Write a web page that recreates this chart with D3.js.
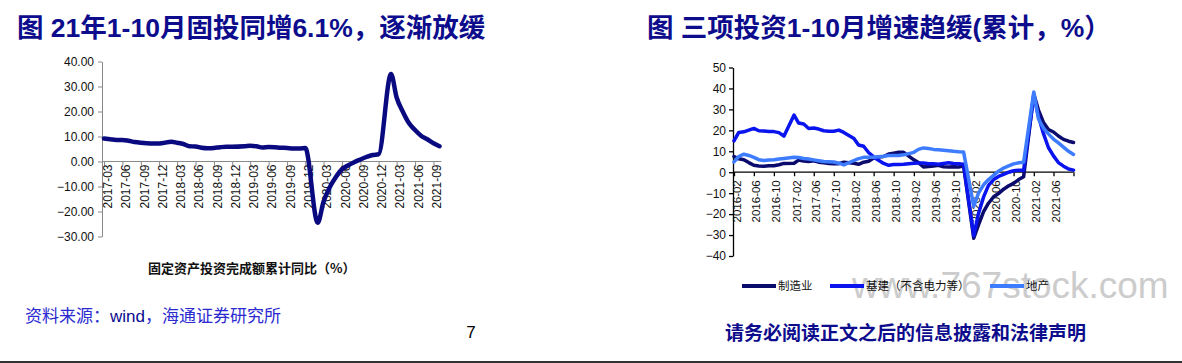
<!DOCTYPE html>
<html>
<head>
<meta charset="utf-8">
<script src="https://cdn.jsdelivr.net/npm/d3@7"></script>
<style>
  body { margin: 0; background: #fff; }
  svg { display: block; }
</style>
</head>
<body>
<div id="chart"></div>
<script>
// ---- left chart: fixed asset investment, cumulative yoy (%)
const faiMonths = [
  "2017-03","2017-04","2017-05","2017-06","2017-07","2017-08","2017-09","2017-10","2017-11","2017-12",
  "2018-02","2018-03","2018-04","2018-05","2018-06","2018-07","2018-08","2018-09","2018-10","2018-11","2018-12",
  "2019-02","2019-03","2019-04","2019-05","2019-06","2019-07","2019-08","2019-09","2019-10","2019-11","2019-12",
  "2020-02","2020-03","2020-04","2020-05","2020-06","2020-07","2020-08","2020-09","2020-10","2020-11","2020-12",
  "2021-02","2021-03","2021-04","2021-05","2021-06","2021-07","2021-08","2021-09","2021-10"
];
const faiValues = [
  9.2, 8.9, 8.6, 8.6, 8.3, 7.8, 7.5, 7.3, 7.2, 7.2,
  7.9, 7.5, 7.0, 6.1, 6.0, 5.5, 5.3, 5.4, 5.7, 5.9, 5.9,
  6.1, 6.3, 6.1, 5.6, 5.8, 5.7, 5.5, 5.4, 5.2, 5.2, 5.4,
  -24.5, -16.1, -10.3, -6.3, -3.1, -1.6, -0.3, 0.8, 1.8, 2.6, 2.9,
  35.0, 25.6, 19.9, 15.4, 12.6, 10.3, 8.9, 7.3, 6.1
];
const faiTicks = ["2017-03","2017-06","2017-09","2017-12","2018-03","2018-06","2018-09","2018-12",
  "2019-03","2019-06","2019-09","2019-12","2020-03","2020-06","2020-09","2020-12","2021-03","2021-06","2021-09"];
const faiYTicks = [40, 30, 20, 10, 0, -10, -20, -30];

// ---- right chart: three investment groups, cumulative yoy (%)
const threeMonths = [
  "2016-02","2016-03","2016-04","2016-05","2016-06","2016-07","2016-08","2016-09","2016-10","2016-11","2016-12",
  "2017-02","2017-03","2017-04","2017-05","2017-06","2017-07","2017-08","2017-09","2017-10","2017-11","2017-12",
  "2018-02","2018-03","2018-04","2018-05","2018-06","2018-07","2018-08","2018-09","2018-10","2018-11","2018-12",
  "2019-02","2019-03","2019-04","2019-05","2019-06","2019-07","2019-08","2019-09","2019-10","2019-11","2019-12",
  "2020-02","2020-03","2020-04","2020-05","2020-06","2020-07","2020-08","2020-09","2020-10","2020-11","2020-12",
  "2021-02","2021-03","2021-04","2021-05","2021-06","2021-07","2021-08","2021-09","2021-10"
];
const mfgValues = [
  7.5, 6.4, 6.0, 4.6, 3.3, 3.0, 2.8, 3.1, 3.1, 3.6, 4.2,
  4.3, 5.8, 5.3, 5.1, 5.5, 4.8, 4.5, 4.2, 4.1, 4.1, 4.8,
  4.3, 3.8, 4.8, 5.2, 6.8, 7.3, 7.5, 8.7, 9.1, 9.5, 9.5,
  5.9, 4.6, 2.5, 2.7, 3.0, 3.3, 2.6, 2.5, 2.6, 2.5, 3.1,
  -31.5, -25.2, -18.8, -14.8, -11.7, -10.2, -8.1, -6.5, -5.3, -3.5, -2.2,
  37.3, 29.8, 23.8, 20.4, 19.2, 17.3, 15.7, 14.8, 14.2
];
const infraValues = [
  15.0, 19.0, 19.3, 20.1, 20.9, 19.8, 19.7, 19.4, 19.4, 18.9, 17.2,
  27.3, 23.5, 23.0, 20.9, 21.1, 20.6, 19.8, 19.6, 19.6, 20.1, 19.0,
  16.1, 13.0, 12.4, 9.4, 7.3, 5.7, 4.2, 3.3, 3.7, 3.7, 3.8,
  4.3, 4.4, 4.4, 4.0, 4.1, 3.8, 4.2, 4.5, 4.2, 4.0, 3.8,
  -30.3, -19.7, -11.8, -6.3, -3.5, -2.0, -1.0, 0.0, 0.7, 1.0, 0.9,
  36.6, 26.8, 18.4, 11.8, 7.8, 4.6, 2.9, 1.5, 1.0
];
const estateValues = [
  4.9, 7.5, 8.6, 8.0, 7.1, 6.0, 5.6, 5.8, 6.0, 6.3, 6.6,
  7.1, 7.0, 6.6, 6.3, 5.9, 5.5, 5.1, 5.0, 4.9, 4.3, 3.5,
  5.6, 6.5, 7.1, 7.1, 7.1, 7.4, 7.6, 8.0, 8.0, 8.0, 8.3,
  9.5, 10.9, 11.6, 11.3, 10.9, 10.7, 10.5, 10.3, 10.0, 9.8, 9.7,
  -16.3, -10.0, -6.0, -3.5, -1.5, 0.5, 2.0, 3.0, 4.0, 4.5, 4.8,
  38.3, 25.6, 21.0, 18.3, 15.8, 14.0, 12.0, 10.0, 8.5
];
const threeTicks = ["2016-02","2016-06","2016-10","2017-02","2017-06","2017-10","2018-02","2018-06","2018-10",
  "2019-02","2019-06","2019-10","2020-02","2020-06","2020-10","2021-02","2021-06"];
const threeYTicks = [50, 40, 30, 20, 10, 0, -10, -20, -30, -40];
const seriesNames = ["制造业", "基建（不含电力等）", "地产"];
const seriesColors = ["#0b0b6e", "#0a14ee", "#3d7cff"];

const W = 1182, H = 363;
const navy = "#0c0c8c";
const latin = "'Liberation Sans', Arial, 'Noto Sans CJK SC', sans-serif";
const cjk = "'Noto Sans CJK SC', 'Liberation Sans', sans-serif";
const parse = d3.timeParse("%Y-%m");
const fmtMonth = d3.timeFormat("%Y-%m");

const svg = d3.select("#chart").append("svg")
  .attr("width", W)
  .attr("height", H)
  .style("font-family", latin);

// titles
svg.append("text")
  .attr("x", 17).attr("y", 37)
  .attr("font-size", 26.5).attr("font-weight", "bold")
  .attr("fill", navy)
  .text("图 21年1-10月固投同增6.1%，逐渐放缓");

svg.append("text")
  .attr("x", 647).attr("y", 37)
  .attr("font-size", 26.5).attr("font-weight", "bold")
  .attr("fill", navy)
  .text("图 三项投资1-10月增速趋缓(累计，%）");

// ================= left chart
const faiData = faiMonths.map((m, i) => ({ date: parse(m), v: faiValues[i] }));

const xL = d3.scaleTime()
  .domain(d3.extent(faiData, d => d.date))
  .range([104, 439.5]);
const yL = d3.scaleLinear().domain([-30, 40]).range([236.5, 61.5]);
const leftAxisX = 102;

const gyL = svg.append("g")
  .attr("transform", `translate(${leftAxisX},0)`)
  .call(d3.axisLeft(yL).tickValues(faiYTicks).tickFormat(d3.format(".2f")).tickSize(4).tickSizeOuter(0).tickPadding(4));
gyL.selectAll("path, line").attr("stroke", "#8a8a8a");
gyL.selectAll("text").attr("font-size", 12).attr("font-family", latin).attr("fill", "#111");

const gxL = svg.append("g")
  .attr("transform", `translate(0,${yL(0)})`)
  .call(d3.axisBottom(xL).tickValues(faiTicks.map(parse)).tickFormat(fmtMonth).tickSize(4));
gxL.select(".domain").remove();
gxL.append("line")
  .attr("x1", leftAxisX).attr("x2", xL.range()[1] + 2)
  .attr("stroke", "#8a8a8a");
gxL.selectAll("line").attr("stroke", "#8a8a8a");
gxL.selectAll(".tick text")
  .attr("font-size", 12).attr("font-family", latin).attr("fill", "#111")
  .attr("transform", "rotate(-90)")
  .attr("text-anchor", "end")
  .attr("x", -3).attr("y", 3).attr("dy", "0.35em");

svg.append("path")
  .datum(faiData)
  .attr("fill", "none")
  .attr("stroke", "#0a0a80")
  .attr("stroke-width", 4.5)
  .attr("stroke-linejoin", "round")
  .attr("stroke-linecap", "round")
  .attr("d", d3.line().x(d => xL(d.date)).y(d => yL(d.v)).curve(d3.curveMonotoneX));

svg.append("text")
  .attr("x", 148).attr("y", 273)
  .attr("font-family", cjk).attr("font-size", 13).attr("font-weight", "bold")
  .attr("fill", "#111")
  .text("固定资产投资完成额累计同比（%）");

// source + page number
const src = svg.append("text")
  .attr("x", 25).attr("y", 322)
  .attr("font-size", 17)
  .attr("font-family", cjk);
src.append("tspan").attr("fill", "#2a2ad0").text("资料来源：");
src.append("tspan").attr("fill", "#0a0a90").attr("font-family", latin).text("wind");
src.append("tspan").attr("fill", "#2a2ad0").text("，海通证券研究所");

svg.append("text")
  .attr("x", 471).attr("y", 338)
  .attr("text-anchor", "middle")
  .attr("font-size", 17)
  .attr("fill", "#000")
  .text("7");

// ================= right chart
const threeDates = threeMonths.map(parse);
const series = [mfgValues, infraValues, estateValues].map((vals, k) => ({
  name: seriesNames[k],
  color: seriesColors[k],
  values: vals.map((v, i) => ({ date: threeDates[i], v: v }))
}));

const xR = d3.scaleTime()
  .domain(d3.extent(threeDates))
  .range([734, 1073.5]);
const yR = d3.scaleLinear().domain([-40, 50]).range([256, 67.5]);
const rightAxisX = 733;

const gyR = svg.append("g")
  .attr("transform", `translate(${rightAxisX},0)`)
  .call(d3.axisLeft(yR).tickValues(threeYTicks).tickSize(4).tickSizeOuter(0).tickPadding(3));
gyR.selectAll("path, line").attr("stroke", "#000").attr("stroke-width", 1.3);
gyR.selectAll("text").attr("font-size", 12).attr("font-family", latin).attr("fill", "#111");

// watermark sits behind the lines and legend
svg.append("text")
  .attr("x", 852).attr("y", 298)
  .attr("font-size", 37)
  .attr("fill", "#cccccc")
  .text("www.767stock.com");

const gxR = svg.append("g")
  .attr("transform", `translate(0,${yR(0)})`)
  .call(d3.axisBottom(xR).tickValues(threeTicks.map(parse).concat([xR.domain()[1]])).tickFormat(fmtMonth).tickSize(4));
gxR.select(".domain").remove();
gxR.append("line")
  .attr("x1", rightAxisX).attr("x2", xR.range()[1])
  .attr("stroke", "#000").attr("stroke-width", 1.3);
gxR.selectAll("line").attr("stroke", "#000").attr("stroke-width", 1.3);
gxR.selectAll(".tick text")
  .attr("font-size", 11.5).attr("font-family", latin).attr("fill", "#111")
  .attr("transform", "rotate(-90)")
  .attr("text-anchor", "end")
  .attr("x", -8).attr("y", 2).attr("dy", "0.35em");
gxR.selectAll(".tick").filter(d => +d === +xR.domain()[1]).select("text").remove();

const lineR = d3.line().x(d => xR(d.date)).y(d => yR(d.v));
svg.append("g").selectAll("path")
  .data(series)
  .join("path")
  .attr("fill", "none")
  .attr("stroke", d => d.color)
  .attr("stroke-width", 3.5)
  .attr("stroke-linejoin", "round")
  .attr("stroke-linecap", "round")
  .attr("d", d => lineR(d.values));

// legend
const legendX = [742, 830, 990];
const lg = svg.append("g").selectAll("g")
  .data(series)
  .join("g")
  .attr("transform", (d, i) => `translate(${legendX[i]},286)`);
lg.append("line")
  .attr("x1", 0).attr("x2", 34)
  .attr("stroke", d => d.color)
  .attr("stroke-width", 4);
lg.append("text")
  .attr("x", 36).attr("dy", "0.35em")
  .attr("font-family", cjk).attr("font-size", 11.5)
  .attr("fill", "#111")
  .text(d => d.name);

svg.append("text")
  .attr("x", 725).attr("y", 340)
  .attr("font-family", cjk).attr("font-size", 19).attr("font-weight", "bold")
  .attr("fill", navy)
  .text("请务必阅读正文之后的信息披露和法律声明");

// bottom band
svg.append("rect")
  .attr("x", 0).attr("y", 361)
  .attr("width", W).attr("height", 2)
  .attr("fill", "#333");
</script>
</body>
</html>
